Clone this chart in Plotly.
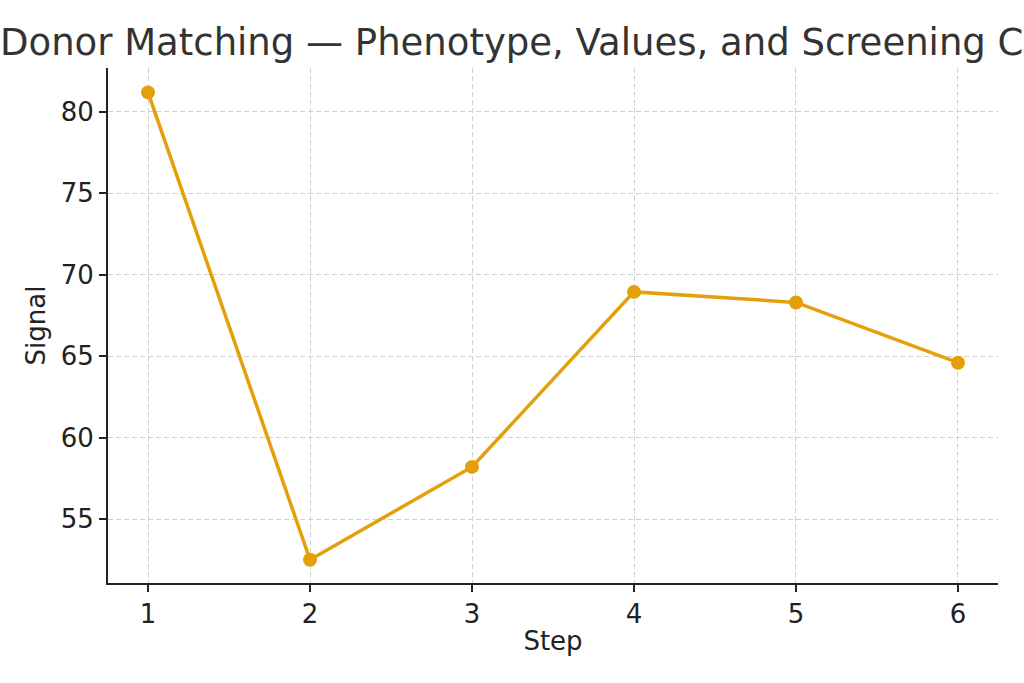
import plotly.graph_objects as go

steps = [1, 2, 3, 4, 5, 6]
signal = [81.2, 52.5, 58.2, 68.95, 68.3, 64.6]
y_ticks = [55, 60, 65, 70, 75, 80]
title_text = "Donor Matching — Phenotype, Values, and Screening Criteria"

line_color = "#E3A00B"
axis_color = "#222222"
font_family = "DejaVu Sans"

fig = go.Figure(
    go.Scatter(
        x=steps,
        y=signal,
        mode="lines+markers",
        line=dict(color=line_color, width=3.5),
        marker=dict(color=line_color, size=14),
        showlegend=False,
    )
)

fig.update_layout(
    width=1024,
    height=683,
    paper_bgcolor="white",
    plot_bgcolor="white",
    margin=dict(l=108, r=26, t=68, b=100),
    font=dict(family=font_family, color="#333333", size=26),
    title=dict(
        text=title_text,
        x=0.0,
        xanchor="left",
        xref="container",
        y=1 - 42 / 683,
        yanchor="middle",
        yref="container",
        font=dict(size=37, color="#333333", family=font_family),
        pad=dict(l=0, r=0, t=0, b=0),
    ),
)

fig.update_xaxes(
    range=[0.753, 6.247],
    tickvals=steps,
    ticks="outside",
    ticklen=7,
    tickwidth=1.5,
    tickcolor=axis_color,
    showline=True,
    linecolor=axis_color,
    linewidth=2,
    mirror=False,
    showgrid=True,
    gridcolor="#d0d0d0",
    griddash="5px,3px",
    gridwidth=1,
    zeroline=False,
    tickfont=dict(size=26, color="#222222"),
    title=dict(text="Step", font=dict(size=26, color="#222222"), standoff=4),
)

fig.update_yaxes(
    range=[51.07, 82.7],
    tickvals=y_ticks,
    ticks="outside",
    ticklen=7,
    tickwidth=1.5,
    tickcolor=axis_color,
    showline=True,
    linecolor=axis_color,
    linewidth=2,
    mirror=False,
    showgrid=True,
    gridcolor="#d0d0d0",
    griddash="5px,3px",
    gridwidth=1,
    zeroline=False,
    tickfont=dict(size=26, color="#222222"),
    title=dict(text="Signal", font=dict(size=26, color="#222222"), standoff=8),
)

fig.write_html(
    "out.html",
    config={"displayModeBar": False},
    post_script="document.body.style.margin='0';",
)
